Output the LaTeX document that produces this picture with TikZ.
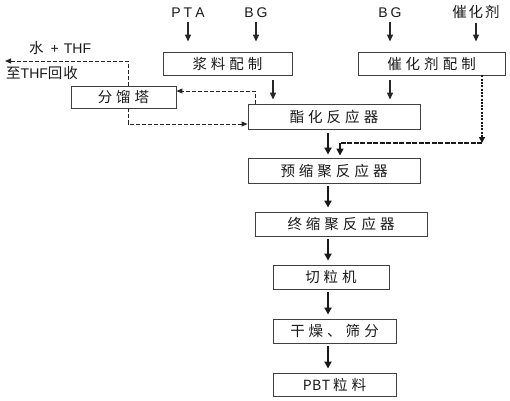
\documentclass[tikz,border=0pt]{standalone}
\usepackage{fontspec}
\setmainfont{Liberation Sans}
\newfontfamily\cjk{Noto Sans CJK SC}
\usetikzlibrary{arrows.meta}
\newcommand\gp{\kern4pt}
\newcommand\lsp{\kern3pt}
\newcommand\cjkf{\cjk\fontsize{14.5}{17}\selectfont}
\newcommand\latf{\fontsize{14}{16}\selectfont}
\begin{document}
\begin{tikzpicture}[x=1pt,y=-1pt,
  box/.style={draw=black!75, line width=0.9pt, inner sep=0pt, font=\cjkf, text=black!90},
  lbl/.style={inner sep=0pt, anchor=base, font=\latf, text=black!90},
  clbl/.style={inner sep=0pt, anchor=base, font=\cjkf, text=black!90},
  feed/.style={draw=black!85, line width=1.3pt, -{Triangle[length=7pt,width=6pt]}},
  mainarr/.style={draw=black!90, line width=2.3pt, -{Triangle[length=7pt,width=7pt]}},
  dsh/.style={draw=black!85, line width=1pt, dash pattern=on 4pt off 2pt},
  dsharr/.style={dsh, -{Triangle[length=6pt,width=5pt]}},
  catdot/.style={draw=black!90, line width=1.8pt, dash pattern=on 2pt off 1.3pt, -{Triangle[length=6pt,width=6pt]}},
  catdash/.style={draw=black!90, line width=1.8pt, dash pattern=on 5pt off 1.5pt},
]
\useasboundingbox (0,0) rectangle (510,400);

% top labels
\node[lbl]  (pta) at (188,17) {P\lsp T\lsp A};
\node[lbl]  (bg1) at (256,17) {B\lsp G};
\node[lbl]  (bg2) at (390,17) {B\lsp G};
\node[clbl] (cat) at (476,17.5) {催\kern2pt 化\kern2pt 剂};

% boxes
\node[box, minimum width=129pt, minimum height=23pt] (jl)  at (227.5,63.5) {浆\gp 料\gp 配\gp 制};
\node[box, minimum width=147pt, minimum height=23pt] (ch)  at (431.5,63.5) {催\gp 化\gp 剂\gp 配\gp 制};
\node[box, minimum width=105pt, minimum height=22pt] (fl)  at (123.5,97) {分\gp 馏\gp 塔};
\node[box, minimum width=172pt, minimum height=25pt] (zh)  at (334,116.5) {酯\gp 化\gp 反\gp 应\gp 器};
\node[box, minimum width=172pt, minimum height=25pt] (yu)  at (334,170.5) {预\gp 缩\gp 聚\gp 反\gp 应\gp 器};
\node[box, minimum width=172pt, minimum height=24pt] (zz)  at (341,224) {终\gp 缩\gp 聚\gp 反\gp 应\gp 器};
\node[box, minimum width=116pt, minimum height=24pt] (ql)  at (331,277) {切\gp 粒\gp 机};
\node[box, minimum width=123pt, minimum height=24pt] (gz)  at (334.5,331) {干\gp 燥\gp 、\gp 筛\gp 分};
\node[box, minimum width=123pt, minimum height=23pt] (pbt) at (334.5,384.5) {{\latf P\kern0.5pt B\kern0.5pt T}\kern3pt 粒\gp 料};

% left labels
\node[inner sep=0pt, anchor=base west, font=\latf, text=black!90] (wt) at (29,53) {{\cjkf 水}\kern7pt +\kern5pt THF};
\node[inner sep=0pt, anchor=base west, font=\latf, text=black!90] (zt) at (6,78) {{\cjkf 至}THF{\cjkf 回\kern1pt 收}};

% feed arrows
\draw[feed, shorten >=10pt] ([yshift=-5pt]pta.base) -- (pta.base |- jl.north);
\draw[feed, shorten >=10pt] ([yshift=-5pt]bg1.base) -- (bg1.base |- jl.north);
\draw[feed, shorten >=10pt] ([yshift=-5pt]bg2.base) -- (bg2.base |- ch.north);
\draw[feed, shorten >=10pt] ([yshift=-5pt]cat.base) -- (cat.base |- ch.north);

\coordinate (c1) at (273,0);
\coordinate (c2) at (390,0);
\draw[feed, shorten <=5pt, shorten >=4pt] (c1 |- jl.south) -- (c1 |- zh.north);
\draw[feed, shorten <=5pt, shorten >=4pt] (c2 |- ch.south) -- (c2 |- zh.north);

% main column
\coordinate (col) at (328,0);
\draw[mainarr, shorten <=4pt, shorten >=3pt] (col |- zh.south) -- (col |- yu.north);
\draw[mainarr, shorten <=3pt, shorten >=4pt] (col |- yu.south) -- (col |- zz.north);
\draw[mainarr, shorten <=3pt, shorten >=4pt] (col |- zz.south) -- (col |- ql.north);
\draw[mainarr, shorten <=3pt, shorten >=4pt] (col |- ql.south) -- (col |- gz.north);
\draw[mainarr, shorten <=3pt, shorten >=4pt] (col |- gz.south) -- (col |- pbt.north);

% catalyst line
\coordinate (cc) at (482,143);
\coordinate (cj) at (340,143);
\draw[catdot] (cc |- ch.south) -- (cc);
\draw[catdash] (cc) -- (cj);
\draw[mainarr, line width=1.5pt, shorten >=2pt] (cj) -- (cj |- yu.north);

% fractionation dashed lines
\coordinate (r1) at (255,91);
\coordinate (r2) at (128,124);
\coordinate (r3) at (128,61);
\coordinate (outp) at (5,61);
\draw[dsharr] (r1 |- zh.north) -- (r1) -- (r1 -| fl.east);
\draw[dsharr] (r2 |- fl.south) -- (r2) -- (r2 -| zh.west);
\draw[dsharr] (r3 |- fl.north) -- (r3) -- (outp);
\end{tikzpicture}
\end{document}
